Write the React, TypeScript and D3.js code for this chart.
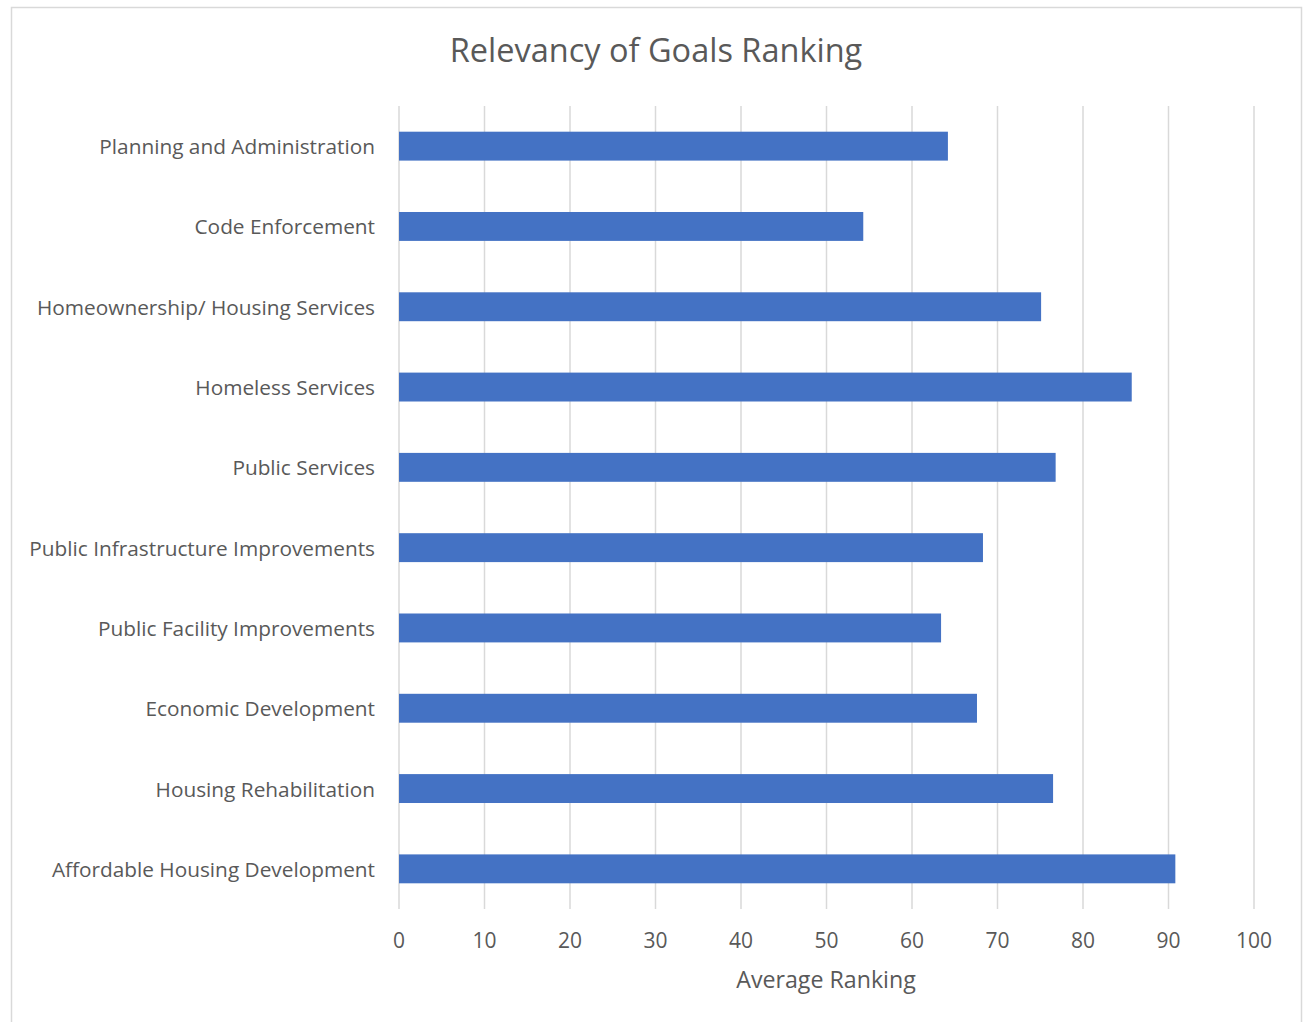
import React from "react";
import * as d3 from "d3";

const categories = [
  "Planning and Administration",
  "Code Enforcement",
  "Homeownership/ Housing Services",
  "Homeless Services",
  "Public Services",
  "Public Infrastructure Improvements",
  "Public Facility Improvements",
  "Economic Development",
  "Housing Rehabilitation",
  "Affordable Housing Development",
];
const values = [64.2, 54.3, 75.1, 85.7, 76.8, 68.3, 63.4, 67.6, 76.5, 90.8];
const ticks = [0, 10, 20, 30, 40, 50, 60, 70, 80, 90, 100];
const title = "Relevancy of Goals Ranking";
const xTitle = "Average Ranking";

const W = 1305;
const H = 1022;
const FONT = "'Open Sans', 'Noto Sans', sans-serif";
const TEXT = "#595959";

export default function App() {
  const x = d3.scaleLinear().domain([0, 100]).range([399, 1254]);
  const y = d3.scaleBand<string>().domain(categories).range([106, 909]).paddingInner(0.64).paddingOuter(0.32);
  return (
    <svg width={W} height={H} style={{ position: "absolute", left: 0, top: 0 }} fontFamily={FONT}>
      <rect x={0} y={0} width={W} height={H} fill="#fff" />
      <rect x={11.5} y={7.5} width={1290} height={1030} fill="#fff" stroke="#d9d9d9" strokeWidth={1.5} />
      <text x={656} y={53} textAnchor="middle" dominantBaseline="middle" fontSize={32.5} fill={TEXT}>{title}</text>
      {ticks.map((t) => (
        <line key={"g" + t} x1={x(t)} x2={x(t)} y1={106} y2={909} stroke="#d9d9d9" strokeWidth={1.5} />
      ))}
      {categories.map((c, i) => (
        <rect key={c} x={x(0)} y={y(c)!} width={x(values[i]) - x(0)} height={y.bandwidth()} fill="#4472c4" />
      ))}
      {categories.map((c) => (
        <text key={"l" + c} x={375} y={y(c)! + y.bandwidth() / 2} textAnchor="end" dominantBaseline="central" fontSize={20.8} fill={TEXT}>{c}</text>
      ))}
      {ticks.map((t) => (
        <text key={"t" + t} x={x(t)} y={939.5} textAnchor="middle" dominantBaseline="central" fontSize={21} fill={TEXT}>{t}</text>
      ))}
      <text x={826} y={978.5} textAnchor="middle" dominantBaseline="central" fontSize={23.2} fill={TEXT}>{xTitle}</text>
    </svg>
  );
}
